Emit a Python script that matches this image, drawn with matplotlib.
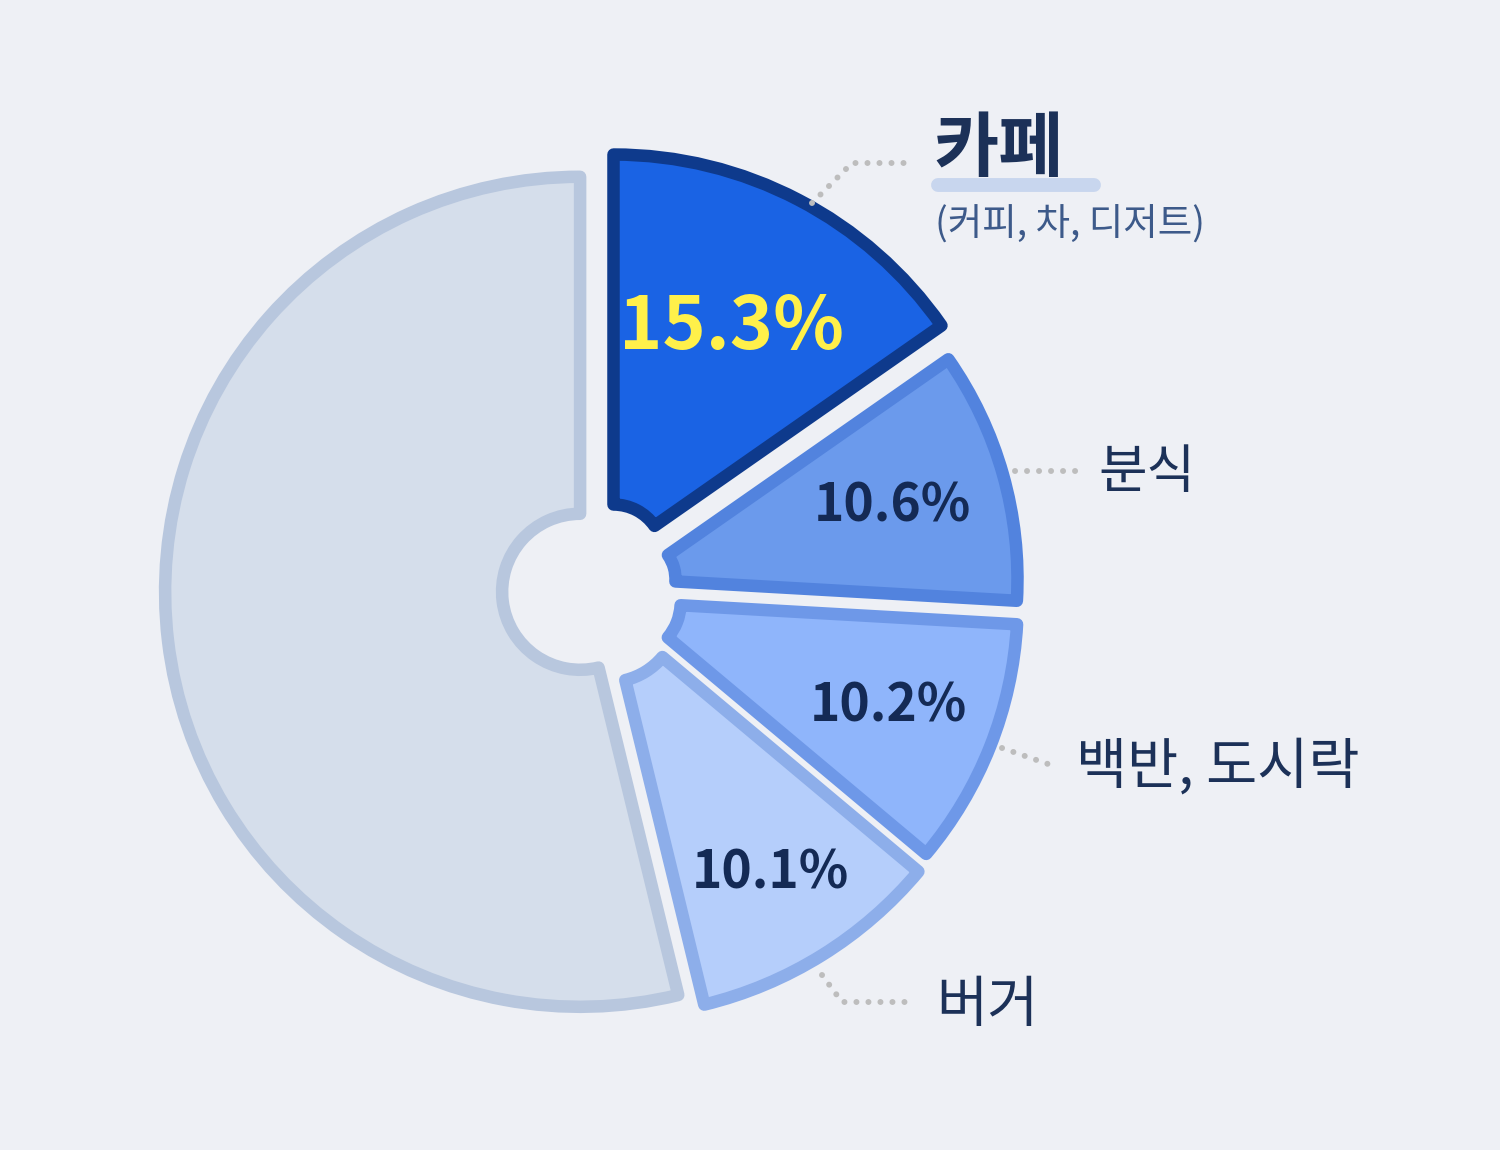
import matplotlib
matplotlib.use("Agg")
import matplotlib.pyplot as plt
import numpy as np

plt.rcParams['font.family'] = ['Noto Sans CJK KR', 'DejaVu Sans']

# 데이터
categories = ['카페', '분식', '백반, 도시락', '버거', '기타']
shares = [15.3, 10.6, 10.2, 10.1, 53.8]
pct_labels = ['15.3%', '10.6%', '10.2%', '10.1%']
cafe_sub = '(커피, 차, 디저트)'

# 스타일
W, H = 1500, 1150
bg = '#EEF0F5'
fills = ['#1A63E4', '#6B9AEC', '#8FB5FB', '#B5CEFB', '#D5DEEB']
edges = ['#0E3A8C', '#5283DE', '#6E98E8', '#8DAEEA', '#B8C7DE']
explode = [40, 40, 33, 26, 15]
radii = [400, 384, 392, 404, 415]
inner = [50, 42, 55, 70, 78]
label_pos = [0.64, 0.70, 0.72, 0.76]
pct_colors = ['#FFF04A', '#142A55', '#142A55', '#142A55']
pct_sizes = [53, 37, 37, 37]
navy = '#1C3158'

fig = plt.figure(figsize=(W / 100, H / 100), dpi=100, facecolor=bg)
ax = fig.add_axes([0, 0, 1, 1])
ax.set_facecolor(bg)

cx, cy = 595, H - 590
wedges, _ = ax.pie(shares, startangle=90, counterclock=False, center=(cx, cy),
                   radius=400, explode=explode, colors=fills,
                   wedgeprops=dict(linewidth=9, joinstyle='round'))
for w, r, ri, ec in zip(wedges, radii, inner, edges):
    w.set_radius(r)
    w.set_width(r - ri)
    w.set_edgecolor(ec)

ax.set_xlim(0, W)
ax.set_ylim(0, H)
ax.set_aspect('equal')
ax.axis('off')

# 퍼센트 라벨 (조각 가운데 각도 방향)
for w, txt, col, fs, k in zip(wedges, pct_labels, pct_colors, pct_sizes, label_pos):
    th = np.deg2rad((w.theta1 + w.theta2) / 2)
    x = w.center[0] + k * w.r * np.cos(th)
    y = w.center[1] + k * w.r * np.sin(th)
    ax.text(x, y, txt, color=col, fontsize=fs, fontweight='bold',
            ha='center', va='center')

# 점선 지시선
dot = dict(color='#BDBDBD', lw=4.3, linestyle=(0, (0.01, 2.0)),
           dash_capstyle='round')
ax.plot([812, 852, 906], [H - 203, H - 163, H - 163], **dot)
ax.plot([1015, 1078], [H - 471, H - 471], **dot)
ax.plot([1002, 1048], [H - 748, H - 764], **dot)
ax.plot([822, 842, 910], [H - 975, H - 1002, H - 1002], **dot)

# 범주 라벨
ax.plot([938, 1094], [H - 185, H - 185], color='#C8D6EE', lw=10,
        solid_capstyle='round', zorder=2)
ax.text(933, H - 150, categories[0], color=navy, fontsize=51,
        fontweight='bold', ha='left', va='center', zorder=3)
ax.text(935, H - 225, cafe_sub, color='#3D5A8A', fontsize=27,
        ha='left', va='center')
ax.text(1098, H - 472, categories[1], color=navy, fontsize=38,
        ha='left', va='center')
ax.text(1076, H - 768, categories[2], color=navy, fontsize=40,
        ha='left', va='center')
ax.text(936, H - 1006, categories[3], color=navy, fontsize=40,
        ha='left', va='center')

fig.savefig('out.png', dpi=100, facecolor=bg)
